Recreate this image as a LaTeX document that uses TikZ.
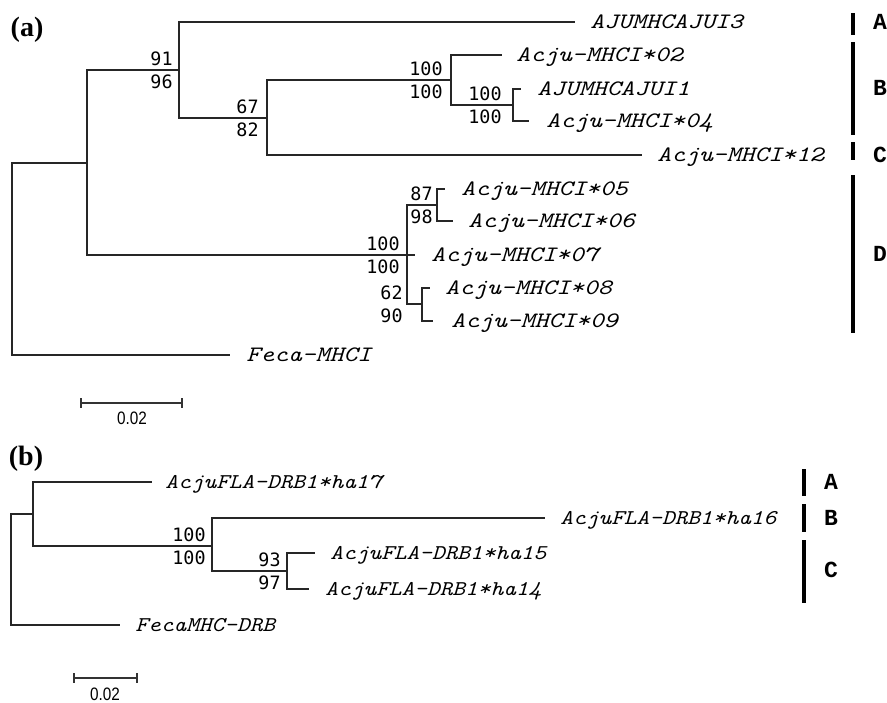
\documentclass[tikz,border=0pt]{standalone}
\usepackage{fontspec}
\setmainfont{Liberation Serif}
\newfontfamily\cladefont{Liberation Mono}
\newfontfamily\supportfont{DejaVu Sans Mono}
\newfontfamily\barfont{Liberation Sans}
\usetikzlibrary{calc,positioning}
\tikzset{
  branch/.style={line width=0.6pt,black!85},
  taxon/.style={anchor=base west,inner sep=0pt,xscale=1.2,font=\ttfamily\itshape\fontsize{11}{12}\selectfont},
  taxonb/.style={taxon,xscale=0.96,font=\ttfamily\itshape\fontsize{10.5}{12}\selectfont},
  support/.style={anchor=east,inner sep=0pt,font=\supportfont\fontsize{9.2}{10}\selectfont},
  cladebar/.style={line width=1.8pt},
  cladename/.style={inner sep=0pt,font=\cladefont\bfseries\fontsize{11.5}{12}\selectfont},
  panel/.style={inner sep=0pt,font=\bfseries\fontsize{14}{16}\selectfont},
  scalebar/.style={line width=0.6pt,black!80},
  scalelabel/.style={inner sep=0pt,xscale=0.85,font=\barfont\fontsize{9}{10}\selectfont}
}
\begin{document}
\begin{tikzpicture}[x=0.5pt,y=-0.5pt]
  \useasboundingbox (0,0) rectangle (887,702);
  % panel (a): internal nodes and tips
  \coordinate (ra) at (12,259);
  \coordinate (a1) at (87,163);
  \coordinate (a2) at (179,70);
  \coordinate (a3) at (267,118);
  \coordinate (a4) at (451,80);
  \coordinate (a5) at (513,105);
  \coordinate (a6) at (407,255);
  \coordinate (a7) at (437,205);
  \coordinate (a8) at (422,304);
  \coordinate (uI3) at (575,22);
  \coordinate (u02) at (502,55);
  \coordinate (uI1) at (521,89);
  \coordinate (u04) at (529,121);
  \coordinate (u12) at (642,155);
  \coordinate (u05) at (445,189);
  \coordinate (u06) at (453,221);
  \coordinate (u07) at (415,255);
  \coordinate (u08) at (430,288);
  \coordinate (u09) at (433,321);
  \coordinate (ufe) at (230,355);
  \foreach \p/\c in {ra/a1,ra/ufe,a1/a2,a1/a6,a2/uI3,a2/a3,a3/a4,a3/u12,a4/u02,a4/a5,
                     a5/uI1,a5/u04,a6/a7,a6/u07,a6/a8,a7/u05,a7/u06,a8/u08,a8/u09}
    \draw[branch] (\p) |- (\c);
  \node[taxon] (tI3) at ($(uI3)+(15,6)$) {AJUMHCAJUI3};
  \node[taxon] (t02) at ($(u02)+(14,6)$) {Acju-MHCI*02};
  \node[taxon] (tI1) at ($(uI1)+(16,6)$) {AJUMHCAJUI1};
  \node[taxon] (t04) at ($(u04)+(17,6)$) {Acju-MHCI*04};
  \node[taxon] (t12) at ($(u12)+(15,6)$) {Acju-MHCI*12};
  \node[taxon] (t05) at ($(u05)+(16,6)$) {Acju-MHCI*05};
  \node[taxon] (t06) at ($(u06)+(15,6)$) {Acju-MHCI*06};
  \node[taxon] (t07) at ($(u07)+(16,6)$) {Acju-MHCI*07};
  \node[taxon] (t08) at ($(u08)+(15,6)$) {Acju-MHCI*08};
  \node[taxon] (t09) at ($(u09)+(18,6)$) {Acju-MHCI*09};
  \node[taxon] (tfe) at ($(ufe)+(16,6)$) {Feca-MHCI};
  % panel (b)
  \coordinate (rb) at (11,570);
  \coordinate (b1) at (33,514);
  \coordinate (b2) at (212,546);
  \coordinate (b3) at (287,571);
  \coordinate (v17) at (152,482);
  \coordinate (v16) at (545,518);
  \coordinate (v15) at (315,553);
  \coordinate (v14) at (309,589);
  \coordinate (vfe) at (120,625);
  \foreach \p/\c in {rb/b1,rb/vfe,b1/v17,b1/b2,b2/v16,b2/b3,b3/v15,b3/v14}
    \draw[branch] (\p) |- (\c);
  \node[taxonb] (s17) at ($(v17)+(13,6)$) {AcjuFLA-DRB1*ha17};
  \node[taxonb] (s16) at ($(v16)+(15,6)$) {AcjuFLA-DRB1*ha16};
  \node[taxonb] (s15) at ($(v15)+(15,6)$) {AcjuFLA-DRB1*ha15};
  \node[taxonb] (s14) at ($(v14)+(16,6)$) {AcjuFLA-DRB1*ha14};
  \node[taxonb] (sfe) at ($(vfe)+(15,6)$) {FecaMHC-DRB};
  % bootstrap values
  \foreach \n/\up/\dn/\dx in {a2/91/96/6,a3/67/82/8,a4/100/100/8,a5/100/100/11,a7/87/98/4,
                              a6/100/100/7,a8/62/90/19,b2/100/100/6,b3/93/97/6}{
    \node[support] (\n-up) at ($(\n)+(-\dx,-11)$) {\up};
    \node[support] (\n-dn) at ($(\n)+(-\dx,12)$) {\dn};
  }
  % clade bars
  \foreach \xx/\ya/\yb/\lab/\yl in {853/13/35/A/22,853/42/135/B/88,853/142/160/C/155,853/175/333/D/254,
                                    804/469/496/A/482,804/504/532/B/518,804/540/603/C/570}{
    \draw[cladebar] (\xx,\ya) -- (\xx,\yb);
    \node[cladename] (cl-\xx-\lab) at (\xx+27,\yl) {\lab};
  }
  % panel labels and scale bars
  \node[panel] (pa) at (27,30) {(a)};
  \node[panel] (pb) at (26,459) {(b)};
  \draw[scalebar] (81,403) -- (182,403) (81,398) -- (81,408) (182,398) -- (182,408);
  \node[scalelabel] (sca) at (132,418) {0.02};
  \draw[scalebar] (74,678) -- (137,678) (74,673) -- (74,683) (137,673) -- (137,683);
  \node[scalelabel] (scb) at (105,694) {0.02};
\end{tikzpicture}
\end{document}
